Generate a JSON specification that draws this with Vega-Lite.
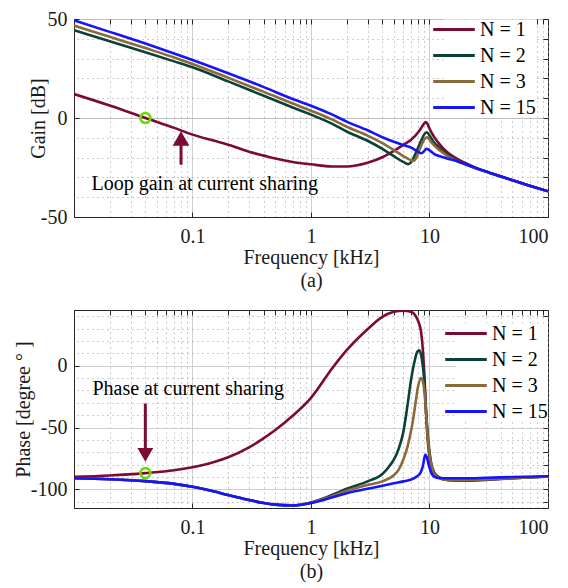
{
  "$schema": "https://vega.github.io/schema/vega-lite/v6.json",
  "padding": {"left": 12, "top": 8, "right": 2, "bottom": 2},
  "background": "white",
  "config": {
    "view": {"stroke": "#262626", "strokeWidth": 1},
    "font": "Liberation Serif",
    "axis": {
      "labelFont": "Liberation Serif", "labelFontSize": 20, "labelColor": "#1a1a1a",
      "titleFont": "Liberation Serif", "titleFontSize": 20, "titleFontWeight": "normal", "titleColor": "#1a1a1a",
      "domainColor": "#262626", "tickColor": "#262626", "tickSize": -5, "labelOverlap": false
    },
    "legend": {
      "labelFont": "Liberation Serif", "labelFontSize": 20, "labelColor": "#000000",
      "symbolType": "M-2.6,0H2.6", "symbolSize": 256, "symbolStrokeWidth": 3,
      "fillColor": "white", "padding": 0, "labelOffset": 16, "rowPadding": 6, "title": null
    }
  },
  "datasets": {
    "gain": [
      {"f":0.01,"N":"N = 1","v":12.1},{"f":0.02,"N":"N = 1","v":6.3},{"f":0.04,"N":"N = 1","v":0},{"f":0.07,"N":"N = 1","v":-5},{"f":0.1,"N":"N = 1","v":-8.4},{"f":0.15,"N":"N = 1","v":-11.4},{"f":0.2,"N":"N = 1","v":-13.5},{"f":0.3,"N":"N = 1","v":-17},{"f":0.4,"N":"N = 1","v":-19},{"f":0.5,"N":"N = 1","v":-20.5},{"f":0.7,"N":"N = 1","v":-22.2},{"f":1,"N":"N = 1","v":-23.4},{"f":1.5,"N":"N = 1","v":-24.5},{"f":2,"N":"N = 1","v":-24.5},{"f":3,"N":"N = 1","v":-22.6},{"f":4,"N":"N = 1","v":-19.8},{"f":5,"N":"N = 1","v":-16.6},{"f":6,"N":"N = 1","v":-13.6},{"f":7,"N":"N = 1","v":-11},{"f":8,"N":"N = 1","v":-7.3},{"f":8.6,"N":"N = 1","v":-4.6},{"f":9,"N":"N = 1","v":-2.8},{"f":9.3,"N":"N = 1","v":-2},{"f":9.6,"N":"N = 1","v":-3},{"f":10,"N":"N = 1","v":-5.3},{"f":10.5,"N":"N = 1","v":-7.8},{"f":11,"N":"N = 1","v":-9.8},{"f":12,"N":"N = 1","v":-12.8},{"f":13,"N":"N = 1","v":-15.2},{"f":14.5,"N":"N = 1","v":-17.8},{"f":16.7,"N":"N = 1","v":-20.3},{"f":20,"N":"N = 1","v":-22.7},{"f":25,"N":"N = 1","v":-25.3},{"f":32,"N":"N = 1","v":-27.6},{"f":50,"N":"N = 1","v":-31.4},{"f":70,"N":"N = 1","v":-34.2},{"f":100,"N":"N = 1","v":-37},
      {"f":0.01,"N":"N = 2","v":44.3},{"f":0.02,"N":"N = 2","v":38.8},{"f":0.04,"N":"N = 2","v":33.2},{"f":0.07,"N":"N = 2","v":28.6},{"f":0.1,"N":"N = 2","v":25.6},{"f":0.2,"N":"N = 2","v":18.5},{"f":0.4,"N":"N = 2","v":11.2},{"f":0.7,"N":"N = 2","v":5.3},{"f":1,"N":"N = 2","v":1.7},{"f":1.5,"N":"N = 2","v":-2.8},{"f":2,"N":"N = 2","v":-6.8},{"f":3,"N":"N = 2","v":-11.5},{"f":4,"N":"N = 2","v":-15.6},{"f":5,"N":"N = 2","v":-19.3},{"f":6,"N":"N = 2","v":-22.2},{"f":6.6,"N":"N = 2","v":-23.3},{"f":7,"N":"N = 2","v":-22.3},{"f":7.5,"N":"N = 2","v":-19},{"f":8,"N":"N = 2","v":-15},{"f":8.5,"N":"N = 2","v":-11.5},{"f":9,"N":"N = 2","v":-8.4},{"f":9.5,"N":"N = 2","v":-7.2},{"f":10,"N":"N = 2","v":-8.8},{"f":10.5,"N":"N = 2","v":-10.8},{"f":11,"N":"N = 2","v":-12.5},{"f":12,"N":"N = 2","v":-14.8},{"f":13,"N":"N = 2","v":-16.8},{"f":14.5,"N":"N = 2","v":-19},{"f":16.7,"N":"N = 2","v":-21.2},{"f":20,"N":"N = 2","v":-23.3},{"f":25,"N":"N = 2","v":-25.5},{"f":32,"N":"N = 2","v":-27.6},{"f":50,"N":"N = 2","v":-31.4},{"f":70,"N":"N = 2","v":-34.2},{"f":100,"N":"N = 2","v":-37},
      {"f":0.01,"N":"N = 3","v":46.7},{"f":0.02,"N":"N = 3","v":41},{"f":0.04,"N":"N = 3","v":35.3},{"f":0.07,"N":"N = 3","v":30.6},{"f":0.1,"N":"N = 3","v":27.3},{"f":0.2,"N":"N = 3","v":20.3},{"f":0.4,"N":"N = 3","v":13.2},{"f":0.7,"N":"N = 3","v":7.3},{"f":1,"N":"N = 3","v":3.7},{"f":1.5,"N":"N = 3","v":-0.7},{"f":2,"N":"N = 3","v":-4.4},{"f":3,"N":"N = 3","v":-8.9},{"f":4,"N":"N = 3","v":-12.7},{"f":5,"N":"N = 3","v":-16.2},{"f":6,"N":"N = 3","v":-19.2},{"f":7,"N":"N = 3","v":-21.3},{"f":7.4,"N":"N = 3","v":-21.6},{"f":7.8,"N":"N = 3","v":-19.5},{"f":8.3,"N":"N = 3","v":-15.5},{"f":8.8,"N":"N = 3","v":-12},{"f":9.3,"N":"N = 3","v":-10},{"f":9.6,"N":"N = 3","v":-9.8},{"f":10,"N":"N = 3","v":-11},{"f":10.5,"N":"N = 3","v":-12.6},{"f":11,"N":"N = 3","v":-14},{"f":12,"N":"N = 3","v":-16},{"f":13,"N":"N = 3","v":-17.6},{"f":14.5,"N":"N = 3","v":-19.6},{"f":16.7,"N":"N = 3","v":-21.5},{"f":20,"N":"N = 3","v":-23.4},{"f":25,"N":"N = 3","v":-25.5},{"f":32,"N":"N = 3","v":-27.6},{"f":50,"N":"N = 3","v":-31.4},{"f":70,"N":"N = 3","v":-34.2},{"f":100,"N":"N = 3","v":-37},
      {"f":0.01,"N":"N = 15","v":49.3},{"f":0.02,"N":"N = 15","v":43.5},{"f":0.04,"N":"N = 15","v":37.6},{"f":0.07,"N":"N = 15","v":32.6},{"f":0.1,"N":"N = 15","v":29.3},{"f":0.2,"N":"N = 15","v":22.6},{"f":0.4,"N":"N = 15","v":15.6},{"f":0.7,"N":"N = 15","v":9.6},{"f":1,"N":"N = 15","v":6.2},{"f":1.5,"N":"N = 15","v":1.8},{"f":2,"N":"N = 15","v":-1.8},{"f":3,"N":"N = 15","v":-6.2},{"f":4,"N":"N = 15","v":-9.7},{"f":5,"N":"N = 15","v":-12},{"f":6,"N":"N = 15","v":-13.6},{"f":7,"N":"N = 15","v":-15},{"f":7.8,"N":"N = 15","v":-16.6},{"f":8.5,"N":"N = 15","v":-17.8},{"f":9,"N":"N = 15","v":-16.8},{"f":9.4,"N":"N = 15","v":-15.5},{"f":9.8,"N":"N = 15","v":-15.9},{"f":10.5,"N":"N = 15","v":-17.3},{"f":11,"N":"N = 15","v":-18.2},{"f":12.2,"N":"N = 15","v":-19.3},{"f":14,"N":"N = 15","v":-20.4},{"f":16.7,"N":"N = 15","v":-21.6},{"f":20,"N":"N = 15","v":-23.2},{"f":25,"N":"N = 15","v":-25.4},{"f":32,"N":"N = 15","v":-27.6},{"f":50,"N":"N = 15","v":-31.4},{"f":70,"N":"N = 15","v":-34.2},{"f":100,"N":"N = 15","v":-37}
    ],
    "phase": [
      {"f":0.01,"N":"N = 1","v":-89.8},{"f":0.02,"N":"N = 1","v":-88.7},{"f":0.04,"N":"N = 1","v":-86.8},{"f":0.07,"N":"N = 1","v":-84.5},{"f":0.1,"N":"N = 1","v":-82},{"f":0.15,"N":"N = 1","v":-78},{"f":0.2,"N":"N = 1","v":-74},{"f":0.3,"N":"N = 1","v":-66},{"f":0.4,"N":"N = 1","v":-58.5},{"f":0.5,"N":"N = 1","v":-52},{"f":0.7,"N":"N = 1","v":-40.5},{"f":1,"N":"N = 1","v":-26},{"f":1.5,"N":"N = 1","v":-2.5},{"f":2,"N":"N = 1","v":12.5},{"f":3,"N":"N = 1","v":29.5},{"f":4,"N":"N = 1","v":39.5},{"f":5,"N":"N = 1","v":43.5},{"f":6,"N":"N = 1","v":44.5},{"f":7,"N":"N = 1","v":43.5},{"f":7.6,"N":"N = 1","v":40.5},{"f":8.1,"N":"N = 1","v":35},{"f":8.5,"N":"N = 1","v":27},{"f":8.8,"N":"N = 1","v":12},{"f":9.1,"N":"N = 1","v":-12},{"f":9.4,"N":"N = 1","v":-42},{"f":9.7,"N":"N = 1","v":-62},{"f":10.1,"N":"N = 1","v":-77},{"f":10.7,"N":"N = 1","v":-85},{"f":11.4,"N":"N = 1","v":-88.5},{"f":12.5,"N":"N = 1","v":-91},{"f":14.8,"N":"N = 1","v":-92.5},{"f":20,"N":"N = 1","v":-93},{"f":30,"N":"N = 1","v":-92.3},{"f":50,"N":"N = 1","v":-91},{"f":100,"N":"N = 1","v":-89.5},
      {"f":0.01,"N":"N = 2","v":-91},{"f":0.02,"N":"N = 2","v":-91.8},{"f":0.04,"N":"N = 2","v":-93.3},{"f":0.07,"N":"N = 2","v":-95.5},{"f":0.1,"N":"N = 2","v":-97.8},{"f":0.15,"N":"N = 2","v":-101.5},{"f":0.2,"N":"N = 2","v":-104.5},{"f":0.3,"N":"N = 2","v":-108.5},{"f":0.4,"N":"N = 2","v":-111},{"f":0.5,"N":"N = 2","v":-112.3},{"f":0.7,"N":"N = 2","v":-112.8},{"f":1,"N":"N = 2","v":-110.5},{"f":1.5,"N":"N = 2","v":-104.5},{"f":2,"N":"N = 2","v":-99.5},{"f":3,"N":"N = 2","v":-93.5},{"f":4,"N":"N = 2","v":-87.5},{"f":4.6,"N":"N = 2","v":-81},{"f":5,"N":"N = 2","v":-76},{"f":5.5,"N":"N = 2","v":-67},{"f":6,"N":"N = 2","v":-54},{"f":6.5,"N":"N = 2","v":-33},{"f":7,"N":"N = 2","v":-11},{"f":7.5,"N":"N = 2","v":4},{"f":7.9,"N":"N = 2","v":11.5},{"f":8.2,"N":"N = 2","v":12.5},{"f":8.6,"N":"N = 2","v":6},{"f":9,"N":"N = 2","v":-10},{"f":9.4,"N":"N = 2","v":-40},{"f":9.8,"N":"N = 2","v":-62},{"f":10.3,"N":"N = 2","v":-78},{"f":11,"N":"N = 2","v":-86.5},{"f":12,"N":"N = 2","v":-90.5},{"f":14,"N":"N = 2","v":-92.3},{"f":20,"N":"N = 2","v":-92.6},{"f":30,"N":"N = 2","v":-92},{"f":50,"N":"N = 2","v":-91},{"f":100,"N":"N = 2","v":-89.5},
      {"f":0.01,"N":"N = 3","v":-91},{"f":0.02,"N":"N = 3","v":-91.8},{"f":0.04,"N":"N = 3","v":-93.3},{"f":0.07,"N":"N = 3","v":-95.5},{"f":0.1,"N":"N = 3","v":-97.8},{"f":0.15,"N":"N = 3","v":-101.5},{"f":0.2,"N":"N = 3","v":-104.5},{"f":0.3,"N":"N = 3","v":-108.5},{"f":0.4,"N":"N = 3","v":-111},{"f":0.5,"N":"N = 3","v":-112.3},{"f":0.7,"N":"N = 3","v":-112.9},{"f":1,"N":"N = 3","v":-110.8},{"f":1.5,"N":"N = 3","v":-105.5},{"f":2,"N":"N = 3","v":-101},{"f":3,"N":"N = 3","v":-96.5},{"f":4,"N":"N = 3","v":-93.5},{"f":5,"N":"N = 3","v":-88.5},{"f":5.5,"N":"N = 3","v":-84},{"f":6,"N":"N = 3","v":-76},{"f":6.5,"N":"N = 3","v":-66},{"f":6.8,"N":"N = 3","v":-58},{"f":7.2,"N":"N = 3","v":-46},{"f":7.6,"N":"N = 3","v":-31},{"f":8,"N":"N = 3","v":-17},{"f":8.5,"N":"N = 3","v":-10},{"f":8.9,"N":"N = 3","v":-15},{"f":9.2,"N":"N = 3","v":-28},{"f":9.7,"N":"N = 3","v":-60},{"f":10.2,"N":"N = 3","v":-77},{"f":10.8,"N":"N = 3","v":-86},{"f":11.8,"N":"N = 3","v":-90.5},{"f":14,"N":"N = 3","v":-92.3},{"f":20,"N":"N = 3","v":-92.6},{"f":30,"N":"N = 3","v":-92},{"f":50,"N":"N = 3","v":-91},{"f":100,"N":"N = 3","v":-89.5},
      {"f":0.01,"N":"N = 15","v":-91},{"f":0.02,"N":"N = 15","v":-91.8},{"f":0.04,"N":"N = 15","v":-93.3},{"f":0.07,"N":"N = 15","v":-95.5},{"f":0.1,"N":"N = 15","v":-97.8},{"f":0.15,"N":"N = 15","v":-101.5},{"f":0.2,"N":"N = 15","v":-104.5},{"f":0.3,"N":"N = 15","v":-108.5},{"f":0.4,"N":"N = 15","v":-111},{"f":0.5,"N":"N = 15","v":-112.3},{"f":0.7,"N":"N = 15","v":-113},{"f":1,"N":"N = 15","v":-111},{"f":1.5,"N":"N = 15","v":-106.5},{"f":2,"N":"N = 15","v":-103},{"f":3,"N":"N = 15","v":-99.5},{"f":4,"N":"N = 15","v":-97},{"f":5,"N":"N = 15","v":-95},{"f":6,"N":"N = 15","v":-93.5},{"f":7,"N":"N = 15","v":-92},{"f":7.8,"N":"N = 15","v":-89.5},{"f":8.4,"N":"N = 15","v":-86.5},{"f":8.8,"N":"N = 15","v":-81},{"f":9.2,"N":"N = 15","v":-72},{"f":9.5,"N":"N = 15","v":-74},{"f":9.9,"N":"N = 15","v":-81},{"f":10.4,"N":"N = 15","v":-87},{"f":11,"N":"N = 15","v":-89.8},{"f":12,"N":"N = 15","v":-90.8},{"f":15,"N":"N = 15","v":-91},{"f":20,"N":"N = 15","v":-91},{"f":30,"N":"N = 15","v":-90.6},{"f":50,"N":"N = 15","v":-90},{"f":100,"N":"N = 15","v":-89.3}
    ]
  },
  "bounds": "flush",
  "spacing": 93,
  "resolve": {"scale": {"y": "independent", "color": "independent"}, "legend": {"color": "independent"}},
  "vconcat": [
    {
      "width": 474, "height": 198,
      "resolve": {"axis": {"x": "independent", "y": "independent"}},
      "layer": [
        {
          "data": {"name": "gain"},
          "mark": {"type": "line", "strokeWidth": 2.6, "interpolate": "monotone", "clip": true},
          "encoding": {
            "x": {"field": "f", "type": "quantitative", "scale": {"type": "log", "domain": [0.01, 100], "nice": false},
              "axis": {
                "orient": "bottom", "grid": false,
                "title": ["Frequency [kHz]", "(a)"], "titleLineHeight": 23, "titlePadding": 1, "labelPadding": 14,
                "titleFont": "Liberation Serif", "titleFontSize": 20, "titleFontWeight": "normal",
                "labelOverlap": false, "values": [0.1, 1, 10, 100], "format": "~g"
              }},
            "y": {"field": "v", "type": "quantitative", "scale": {"domain": [-50, 50], "nice": false},
              "axis": {
                "orient": "left", "grid": false,
                "title": "Gain [dB]", "titleX": -26, "labelPadding": 12, "labelOverlap": false,
                "titleFont": "Liberation Serif", "titleFontSize": 20, "titleFontWeight": "normal",
                "values": [-50, 0, 50], "labelExpr": "'' + datum.value"
              }},
            "color": {"field": "N", "type": "nominal",
              "scale": {"domain": ["N = 1", "N = 2", "N = 3", "N = 15"], "range": ["#7b0a35", "#0a4238", "#8a6a3a", "#1414ff"]},
              "legend": {"orient": "none", "legendX": 370, "legendY": 0.5, "labelFont": "Liberation Serif", "labelFontSize": 20}}
          }
        },
        {
          "data": {"values": [{"f": 0.04, "v": 0}]},
          "mark": {"type": "point", "shape": "circle", "filled": false, "size": 100, "color": "#66dd00", "strokeWidth": 2.6, "opacity": 1},
          "encoding": {
            "x": {"field": "f", "type": "quantitative",
              "axis": {
                "orient": "top", "grid": true, "labels": false, "title": null, "domain": false, "tickSize": -5,
                "values": [0.01,0.02,0.03,0.04,0.05,0.06,0.07,0.08,0.09,0.1,0.2,0.3,0.4,0.5,0.6,0.7,0.8,0.9,1,2,3,4,5,6,7,8,9,10,20,30,40,50,60,70,80,90,100],
                "gridColor": {"condition": {"test": "datum.value == 0.1 || datum.value == 1 || datum.value == 10", "value": "#cfcfcf"}, "value": "#9a9a9a"},
                "gridDash": {"condition": {"test": "datum.value == 0.1 || datum.value == 1 || datum.value == 10", "value": []}, "value": [1, 4]}
              }},
            "y": {"field": "v", "type": "quantitative",
              "axis": {
                "orient": "right", "grid": true, "labels": false, "title": null, "domain": false, "tickSize": -5,
                "values": [-50,-40,-30,-20,-10,0,10,20,30,40,50],
                "gridColor": {"condition": {"test": "datum.value % 50 == 0", "value": "#bdbdbd"}, "value": "#9a9a9a"},
                "gridDash": {"condition": {"test": "datum.value % 50 == 0", "value": []}, "value": [1, 4]}
              }}
          }
        },
        {
          "data": {"values": [{"f": 0.08, "v": -23.6, "v2": -10}]},
          "mark": {"type": "rule", "color": "#7b0a35", "strokeWidth": 3},
          "encoding": {"x": {"field": "f", "type": "quantitative", "axis": null}, "y": {"field": "v", "type": "quantitative", "axis": null}, "y2": {"field": "v2"}}
        },
        {
          "data": {"values": [{"f": 0.08, "v": -10.3}]},
          "mark": {"type": "point", "shape": "triangle-up", "filled": true, "size": 280, "color": "#7b0a35", "opacity": 1},
          "encoding": {"x": {"field": "f", "type": "quantitative", "axis": null}, "y": {"field": "v", "type": "quantitative", "axis": null}}
        },
        {
          "data": {"values": [{"f": 0.127, "v": -33.5, "t": "Loop gain at current sharing"}]},
          "mark": {"type": "text", "font": "Liberation Serif", "fontSize": 20, "color": "#000000"},
          "encoding": {"x": {"field": "f", "type": "quantitative", "axis": null}, "y": {"field": "v", "type": "quantitative", "axis": null}, "text": {"field": "t"}}
        }
      ]
    },
    {
      "width": 474, "height": 198,
      "resolve": {"axis": {"x": "independent", "y": "independent"}},
      "layer": [
        {
          "data": {"name": "phase"},
          "mark": {"type": "line", "strokeWidth": 2.6, "interpolate": "monotone", "clip": true},
          "encoding": {
            "x": {"field": "f", "type": "quantitative", "scale": {"type": "log", "domain": [0.01, 100], "nice": false},
              "axis": {
                "orient": "bottom", "grid": false,
                "title": ["Frequency [kHz]", "(b)"], "titleLineHeight": 23, "titlePadding": 1, "labelPadding": 14,
                "titleFont": "Liberation Serif", "titleFontSize": 20, "titleFontWeight": "normal",
                "labelOverlap": false, "values": [0.1, 1, 10, 100], "format": "~g"
              }},
            "y": {"field": "v", "type": "quantitative", "scale": {"domain": [-115, 45], "nice": false},
              "axis": {
                "orient": "left", "grid": false,
                "title": "Phase [degree ° ]", "titleX": -41, "labelPadding": 12, "labelOverlap": false,
                "titleFont": "Liberation Serif", "titleFontSize": 20, "titleFontWeight": "normal",
                "values": [-100, -50, 0], "labelExpr": "'' + datum.value"
              }},
            "color": {"field": "N", "type": "nominal",
              "scale": {"domain": ["N = 1", "N = 2", "N = 3", "N = 15"], "range": ["#7b0a35", "#0a4238", "#8a6a3a", "#1414ff"]},
              "legend": {"orient": "none", "legendX": 382, "legendY": 13.5, "labelFont": "Liberation Serif", "labelFontSize": 20}}
          }
        },
        {
          "data": {"values": [{"f": 0.04, "v": -86.8}]},
          "mark": {"type": "point", "shape": "circle", "filled": false, "size": 100, "color": "#66dd00", "strokeWidth": 2.6, "opacity": 1},
          "encoding": {
            "x": {"field": "f", "type": "quantitative",
              "axis": {
                "orient": "top", "grid": true, "labels": false, "title": null, "domain": false, "tickSize": -5,
                "values": [0.01,0.02,0.03,0.04,0.05,0.06,0.07,0.08,0.09,0.1,0.2,0.3,0.4,0.5,0.6,0.7,0.8,0.9,1,2,3,4,5,6,7,8,9,10,20,30,40,50,60,70,80,90,100],
                "gridColor": {"condition": {"test": "datum.value == 0.1 || datum.value == 1 || datum.value == 10", "value": "#cfcfcf"}, "value": "#9a9a9a"},
                "gridDash": {"condition": {"test": "datum.value == 0.1 || datum.value == 1 || datum.value == 10", "value": []}, "value": [1, 4]}
              }},
            "y": {"field": "v", "type": "quantitative",
              "axis": {
                "orient": "right", "grid": true, "labels": false, "title": null, "domain": false, "tickSize": -5,
                "values": [-110,-100,-90,-80,-70,-60,-50,-40,-30,-20,-10,0,10,20,30,40],
                "gridColor": {"condition": {"test": "datum.value % 50 == 0", "value": "#cfcfcf"}, "value": "#9a9a9a"},
                "gridDash": {"condition": {"test": "datum.value % 50 == 0", "value": []}, "value": [1, 4]}
              }}
          }
        },
        {
          "data": {"values": [{"f": 0.04, "v": -30.6, "v2": -71}]},
          "mark": {"type": "rule", "color": "#7b0a35", "strokeWidth": 3},
          "encoding": {"x": {"field": "f", "type": "quantitative", "axis": null}, "y": {"field": "v", "type": "quantitative", "axis": null}, "y2": {"field": "v2"}}
        },
        {
          "data": {"values": [{"f": 0.04, "v": -72}]},
          "mark": {"type": "point", "shape": "triangle-down", "filled": true, "size": 250, "color": "#7b0a35", "opacity": 1},
          "encoding": {"x": {"field": "f", "type": "quantitative", "axis": null}, "y": {"field": "v", "type": "quantitative", "axis": null}}
        },
        {
          "data": {"values": [{"f": 0.092, "v": -18.5, "t": "Phase at current sharing"}]},
          "mark": {"type": "text", "font": "Liberation Serif", "fontSize": 20, "color": "#000000"},
          "encoding": {"x": {"field": "f", "type": "quantitative", "axis": null}, "y": {"field": "v", "type": "quantitative", "axis": null}, "text": {"field": "t"}}
        }
      ]
    }
  ]
}
